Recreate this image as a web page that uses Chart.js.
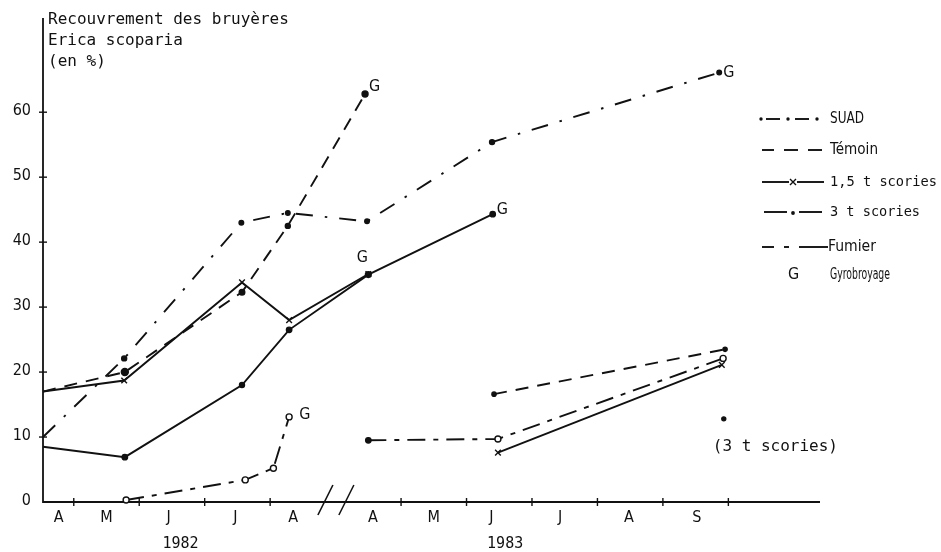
<!DOCTYPE html>
<html>
<head>
<meta charset="utf-8">
<script src="https://cdn.jsdelivr.net/npm/chart.js@4.4.1/dist/chart.umd.min.js"></script>
<style>
  body { margin: 0; background: #fff; }
  canvas { display: block; }
</style>
</head>
<body>
<canvas id="chart" width="941" height="552"></canvas>
<script>
// x values are month positions: 0 = start of April 1982, 5 = start of April 1983 (axis break)
const monthLabels = ["A", "M", "J", "J", "A", "A", "M", "J", "J", "A", "S"];
const monthLabelPos = [0.77, 1.5, 2.45, 3.47, 4.35, 5.57, 6.5, 7.38, 8.43, 9.48, 10.52];
const monthTicks = [1, 2, 3, 4, 6, 7, 8, 9, 10, 11];
const yearLabels = ["1982", "1983"];
const yearLabelPos = [2.63, 7.59];
const yTicks = [0, 10, 20, 30, 40, 50, 60];

const suadX = [0.53, 1.77, 3.56, 4.27, 5.48, 7.39, 10.86];
const suadY = [10, 22.1, 43, 44.5, 43.2, 55.4, 66.1];

const temoin82X = [0.53, 1.78, 3.57, 4.27, 5.45];
const temoin82Y = [17, 20, 32.3, 42.5, 62.8];
const temoin83X = [7.42, 10.95];
const temoin83Y = [16.6, 23.5];

const scories15_82X = [0.53, 1.77, 3.57, 4.29, 5.5];
const scories15_82Y = [17, 18.7, 33.8, 28, 35.1];
const scories15_83X = [7.48, 10.9];
const scories15_83Y = [7.6, 21.1];

const scories3_82X = [0.53, 1.78, 3.57, 4.29, 5.5, 7.4];
const scories3_82Y = [8.5, 6.9, 18, 26.5, 35, 44.3];
const scories3_83X = [10.93];
const scories3_83Y = [12.8];

const fumier82X = [1.8, 3.62, 4.05, 4.29];
const fumier82Y = [0.3, 3.4, 5.2, 13.1];
const fumier83X = [5.5, 7.48, 10.92];
const fumier83Y = [9.5, 9.7, 22.1];

const legendLabels = ["SUAD", "Témoin", "1,5 t scories", "3 t scories", "Fumier"];

const INK = "#111";
const LW = 1.9;
const dashSuad = [17, 12, 2.5, 12];
const dashTemoin = [13, 9];
const dashFumier = [18, 8, 5, 8];
const sans = "'DejaVu Sans Condensed', 'Liberation Sans Narrow', sans-serif";
const mono = "'DejaVu Sans Mono', 'Liberation Mono', monospace";

function pts(xs, ys) {
  return xs.map((x, i) => ({ x: x, y: ys[i] }));
}

function series(xs, ys, dash, extra) {
  return Object.assign({
    data: pts(xs, ys),
    borderColor: INK,
    borderWidth: LW,
    borderDash: dash,
    pointBackgroundColor: INK,
    pointBorderColor: INK,
    pointBorderWidth: 1.4,
    pointRadius: 2.5,
    tension: 0,
    fill: false,
    clip: false,
  }, extra);
}

const datasets = [
  series(suadX, suadY, dashSuad, { pointRadius: [0, 2.5, 2.3, 2.3, 2.3, 2.5, 2.3] }),
  series(temoin82X, temoin82Y, dashTemoin, { pointRadius: [0, 3.5, 2.8, 2.5, 3] }),
  series(temoin83X, temoin83Y, dashTemoin, { pointRadius: 2.1 }),
  series(scories15_82X, scories15_82Y, [], { pointStyle: "crossRot", pointRadius: [0, 4, 4, 4, 4] }),
  series(scories15_83X, scories15_83Y, [], { pointStyle: "crossRot", pointRadius: 4 }),
  series(scories3_82X, scories3_82Y, [], { pointRadius: [0, 2.7, 2.5, 2.7, 2.9, 2.7] }),
  series(scories3_83X, scories3_83Y, [], { showLine: false, pointRadius: 2 }),
  series(fumier82X, fumier82Y, dashFumier, { pointBackgroundColor: "#fff", pointRadius: 3 }),
  series(fumier83X, fumier83Y, dashFumier, { pointBackgroundColor: [INK, "#fff", "#fff"], pointRadius: [2.7, 3, 3] }),
];

function last(arr) { return arr[arr.length - 1]; }

const decor = {
  id: "decor",
  beforeDatasetsDraw(chart) {
    const ctx = chart.ctx;
    const xs = chart.scales.x;
    const ys = chart.scales.y;
    const x0 = xs.left, y0 = ys.bottom;
    ctx.save();
    ctx.strokeStyle = INK;
    ctx.lineWidth = 1.8;
    ctx.setLineDash([]);
    // axes
    ctx.beginPath();
    ctx.moveTo(x0, ys.top);
    ctx.lineTo(x0, y0);
    ctx.lineTo(xs.right, y0);
    ctx.stroke();
    // y ticks
    ctx.lineWidth = 1.4;
    yTicks.forEach(v => {
      if (v === 0) return;
      const py = ys.getPixelForValue(v);
      ctx.beginPath();
      ctx.moveTo(x0 - 4, py);
      ctx.lineTo(x0 + 4, py);
      ctx.stroke();
    });
    // x ticks
    monthTicks.forEach(m => {
      const px = xs.getPixelForValue(m);
      ctx.beginPath();
      ctx.moveTo(px, y0 - 4);
      ctx.lineTo(px, y0 + 4);
      ctx.stroke();
    });
    // axis break
    ctx.lineWidth = 1.6;
    [4.73, 5.05].forEach(m => {
      const px = xs.getPixelForValue(m);
      ctx.beginPath();
      ctx.moveTo(px, y0 + 13);
      ctx.lineTo(px + 15, y0 - 17);
      ctx.stroke();
    });

    // labels
    ctx.fillStyle = INK;
    ctx.font = "16px " + sans;
    ctx.textAlign = "right";
    ctx.textBaseline = "middle";
    yTicks.forEach(v => {
      ctx.fillText(String(v), 31, ys.getPixelForValue(v) - 1, 22);
    });
    ctx.textAlign = "center";
    monthLabels.forEach((t, i) => {
      ctx.fillText(t, xs.getPixelForValue(monthLabelPos[i]), 518);
    });
    ctx.font = "15px " + mono;
    yearLabels.forEach((t, i) => {
      ctx.fillText(t, xs.getPixelForValue(yearLabelPos[i]), 544);
    });

    // title
    ctx.textAlign = "left";
    ctx.font = "16px " + mono;
    ctx.fillText("Recouvrement des bruyères", 48, 20, 244);
    ctx.fillText("Erica scoparia", 48, 41);
    ctx.fillText("(en %)", 48, 62);
    ctx.restore();
  },
  afterDraw(chart) {
    const ctx = chart.ctx;
    const xs = chart.scales.x;
    const ys = chart.scales.y;
    const px = v => xs.getPixelForValue(v);
    const py = v => ys.getPixelForValue(v);
    ctx.save();
    ctx.fillStyle = INK;
    ctx.strokeStyle = INK;
    ctx.textBaseline = "middle";
    ctx.textAlign = "left";

    // G (gyrobroyage) labels
    ctx.font = "16px " + sans;
    ctx.fillText("G", px(last(temoin82X)) + 4, py(last(temoin82Y)) - 7);
    ctx.fillText("G", px(last(suadX)) + 4, py(last(suadY)));
    ctx.fillText("G", px(last(scories3_82X)) + 4, py(last(scories3_82Y)) - 4);
    ctx.fillText("G", px(last(fumier82X)) + 10, py(last(fumier82Y)) - 2);
    ctx.textAlign = "center";
    ctx.fillText("G", px(last(scories15_82X)) - 6, py(last(scories15_82Y)) - 16);

    // isolated point note
    ctx.textAlign = "left";
    ctx.font = "16px " + mono;
    ctx.fillText("(3 t scories)", px(scories3_83X[0]) - 11, py(scories3_83Y[0]) + 28, 126);

    // legend
    const lx0 = 761, lx1 = 824, tx = 830;
    const rows = [119, 150, 182, 212, 247];
    ctx.lineWidth = LW;
    function seg(a, b, y) {
      ctx.beginPath();
      ctx.moveTo(a, y);
      ctx.lineTo(b, y);
      ctx.stroke();
    }
    function dot(x, y, r) {
      ctx.beginPath();
      ctx.arc(x, y, r, 0, Math.PI * 2);
      ctx.fill();
    }
    // SUAD
    dot(lx0, rows[0], 1.7);
    seg(lx0 + 5, lx0 + 19, rows[0]);
    dot(lx0 + 27, rows[0], 1.7);
    seg(lx0 + 34, lx0 + 48, rows[0]);
    dot(lx0 + 56, rows[0], 1.7);
    // Temoin
    seg(lx0 + 1, lx0 + 13, rows[1]);
    seg(lx0 + 23, lx0 + 37, rows[1]);
    seg(lx0 + 47, lx1 - 2, rows[1]);
    // 1,5 t scories
    seg(lx0 + 1, lx0 + 28, rows[2]);
    ctx.lineWidth = 1.4;
    const cx = lx0 + 32, cy = rows[2];
    ctx.beginPath();
    ctx.moveTo(cx - 3, cy - 3); ctx.lineTo(cx + 3, cy + 3);
    ctx.moveTo(cx + 3, cy - 3); ctx.lineTo(cx - 3, cy + 3);
    ctx.stroke();
    ctx.lineWidth = LW;
    seg(lx0 + 36, lx1, rows[2]);
    // 3 t scories
    seg(lx0 + 3, lx0 + 26, rows[3]);
    dot(lx0 + 32, rows[3] + 1, 1.9);
    seg(lx0 + 38, lx1 - 2, rows[3]);
    // Fumier
    seg(lx0 + 1, lx0 + 13, rows[4]);
    seg(lx0 + 23, lx0 + 28, rows[4]);
    seg(lx0 + 38, lx1 + 4, rows[4]);

    ctx.font = "16px " + sans;
    ctx.fillText(legendLabels[0], tx, rows[0], 34);
    ctx.fillText(legendLabels[1], tx, rows[1], 48);
    ctx.font = "14px " + mono;
    ctx.fillText(legendLabels[2], tx, rows[2], 107);
    ctx.fillText(legendLabels[3], tx, rows[3], 90);
    ctx.font = "16px " + sans;
    ctx.fillText(legendLabels[4], lx1 + 4, rows[4], 48);
    ctx.fillText("G", 788, 275);
    ctx.font = "15px " + sans;
    ctx.fillText("Gyrobroyage", tx, 275, 60);
    ctx.restore();
  },
};

new Chart(document.getElementById("chart"), {
  type: "line",
  data: { datasets: datasets },
  options: {
    responsive: false,
    animation: false,
    devicePixelRatio: 1,
    layout: { padding: { left: 43, right: 121, top: 18, bottom: 50 } },
    scales: {
      x: { type: "linear", min: 0.53, max: 12.4, display: false },
      y: { type: "linear", min: 0, max: 74.5, display: false },
    },
    plugins: {
      legend: { display: false },
      tooltip: { enabled: false },
    },
  },
  plugins: [decor],
});
</script>
</body>
</html>
